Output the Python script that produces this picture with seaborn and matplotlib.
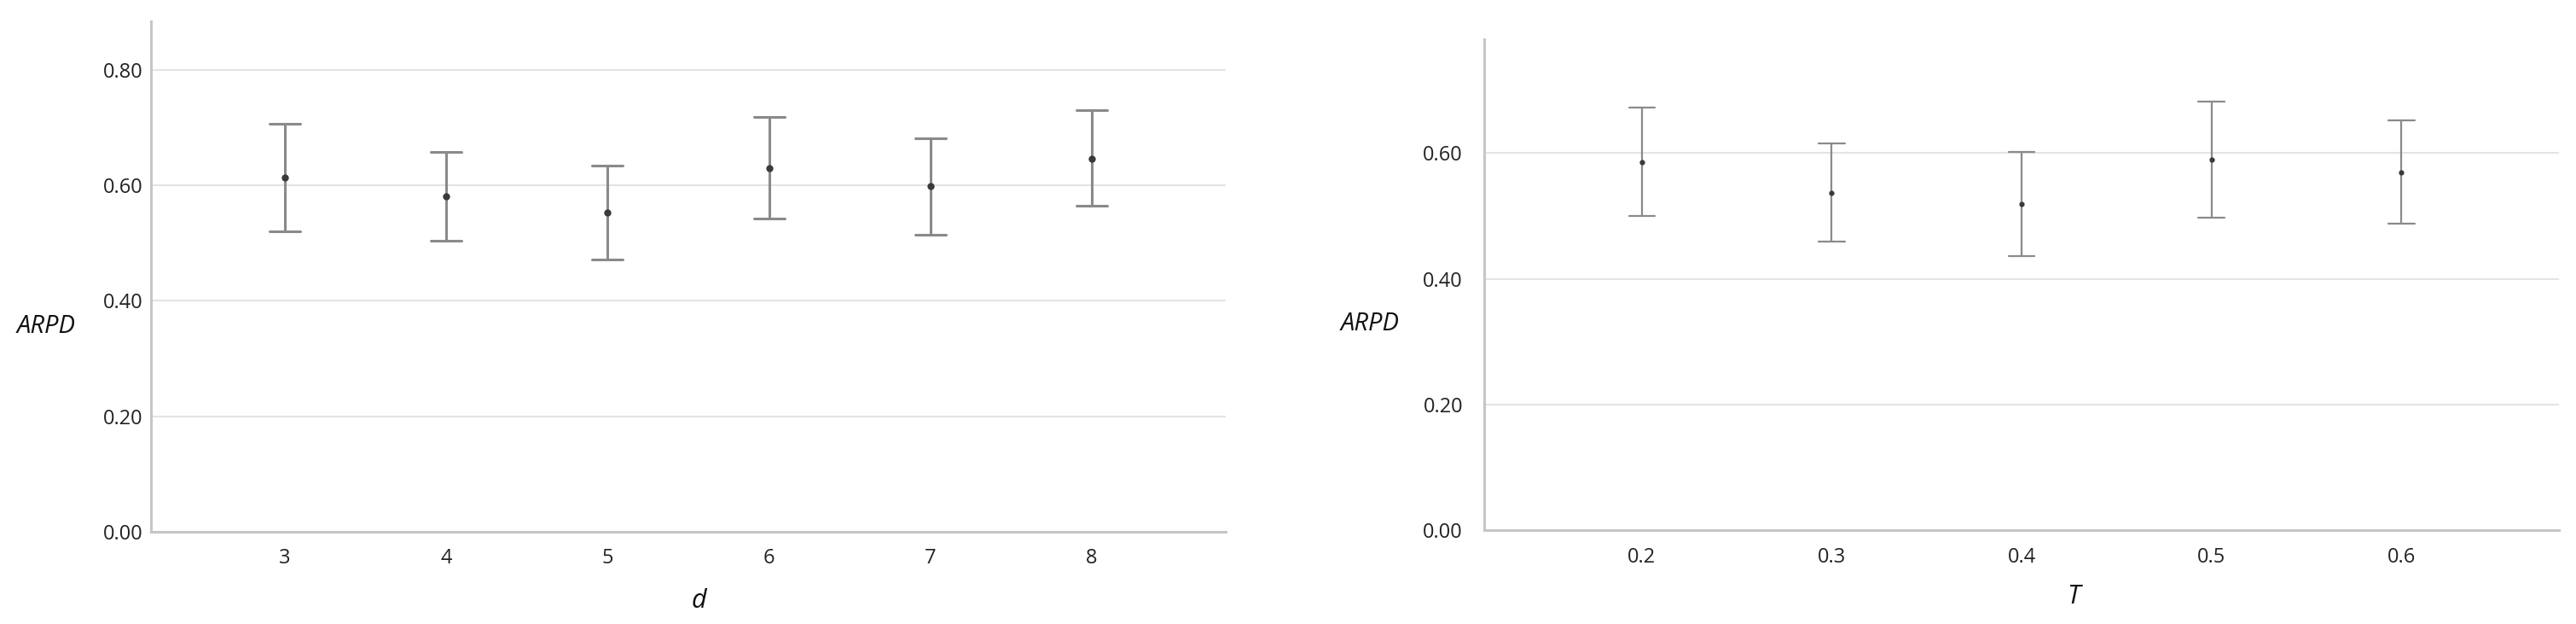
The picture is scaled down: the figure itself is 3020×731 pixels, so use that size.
import pandas as pd
import numpy as np
import matplotlib
matplotlib.use("Agg")
import matplotlib.pyplot as plt
import seaborn as sns

# valores: media e intervalo (inferior, superior)
d_vals = ["3", "4", "5", "6", "7", "8"]
d_mean = [0.614, 0.581, 0.553, 0.630, 0.599, 0.646]
d_low = [0.520, 0.504, 0.472, 0.542, 0.515, 0.564]
d_high = [0.707, 0.658, 0.634, 0.719, 0.681, 0.730]

t_vals = ["0.2", "0.3", "0.4", "0.5", "0.6"]
t_mean = [0.586, 0.537, 0.519, 0.589, 0.569]
t_low = [0.500, 0.460, 0.436, 0.497, 0.488]
t_high = [0.673, 0.615, 0.602, 0.682, 0.652]


def a_largo(cats, low, mean, high, col):
    # tres filas por categoría: la mediana es la media y el rango es el IC
    filas = []
    for c, lo, m, hi in zip(cats, low, mean, high):
        for v in (lo, m, hi):
            filas.append({col: c, "ARPD": v})
    return pd.DataFrame(filas)


sns.set_theme(style="whitegrid", rc={
    "grid.color": "#e4e4e4",
    "grid.linewidth": 1.5,
    "axes.edgecolor": "#c6c6c6",
    "axes.linewidth": 2.2,
})
plt.rcParams["font.family"] = ["Open Sans", "DejaVu Sans"]

fig = plt.figure(figsize=(30.2, 7.31), dpi=100)
ax1 = fig.add_axes([0.0586, 0.1477, 0.4172, 0.8181])
ax2 = fig.add_axes([0.5762, 0.1498, 0.4172, 0.7873])


def graficar(ax, df, col, orden, capsize, lw, ms, ymax, yticks, xlab, xlab_x, ylab_xy, ypad):
    sns.pointplot(data=df, x=col, y="ARPD", order=orden, ax=ax,
                  estimator="median", errorbar=("pi", 100),
                  capsize=capsize, linestyle="none", marker="o",
                  color="#3a3a3a", markersize=ms, markeredgewidth=0,
                  zorder=4,
                  err_kws={"color": "#8a8a8a", "linewidth": lw, "zorder": 2})
    ax.set_ylim(0, ymax)
    ax.set_xlim(-0.83, len(orden) - 1 + 0.83)
    ax.set_yticks(yticks)
    ax.set_yticklabels([f"{v:.2f}" for v in yticks])
    ax.grid(axis="x", visible=False)
    ax.grid(axis="y", visible=True)
    for s in ["top", "right"]:
        ax.spines[s].set_visible(False)
    ax.tick_params(axis="y", length=0, pad=ypad, labelsize=17, labelcolor="#222222")
    ax.tick_params(axis="x", length=0, pad=14, labelsize=17, labelcolor="#222222")
    ax.set_xlabel(xlab, fontsize=22, style="italic", color="#111111")
    ax.xaxis.set_label_coords(xlab_x, -0.135)
    ax.xaxis.label.set_va("center")
    ax.set_ylabel("ARPD", fontsize=21, style="italic", rotation=0, color="#111111")
    ax.yaxis.set_label_coords(*ylab_xy)
    ax.yaxis.label.set_va("center")
    ax.yaxis.label.set_ha("center")


df_d = a_largo(d_vals, d_low, d_mean, d_high, "d")
df_t = a_largo(t_vals, t_low, t_mean, t_high, "T")

graficar(ax1, df_d, "d", d_vals, 0.19, 2.2, 6, 0.884,
         [0.0, 0.2, 0.4, 0.6, 0.8], "d", 0.51, (-0.0976, 0.403), 7)
graficar(ax2, df_t, "T", t_vals, 0.137, 1.6, 4.5, 0.781,
         [0.0, 0.2, 0.4, 0.6], "T", 0.548, (-0.106, 0.421), 18)

fig.savefig("out.png", dpi=100)
